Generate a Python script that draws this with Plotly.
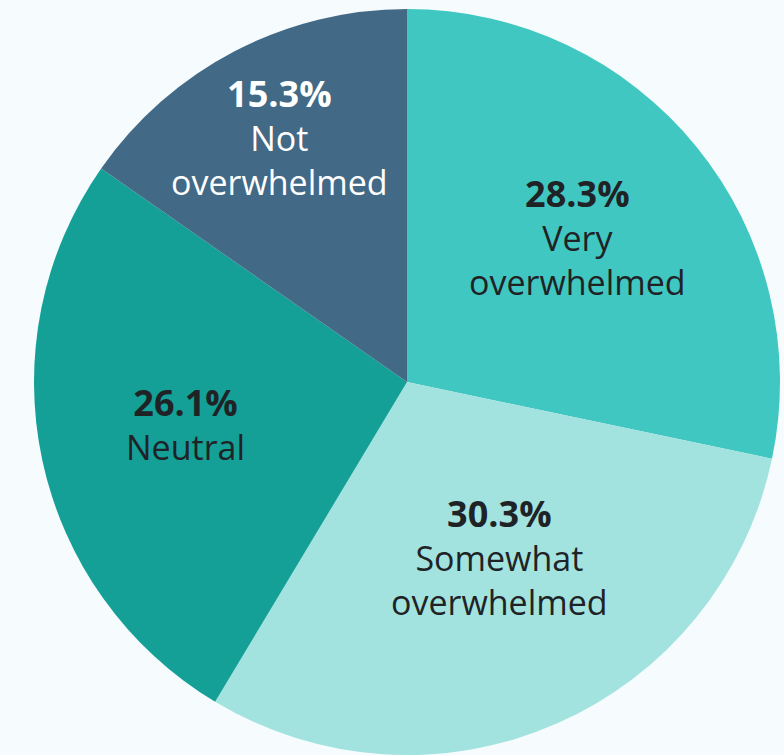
import math
import plotly.graph_objects as go

labels = ["Very<br>overwhelmed", "Somewhat<br>overwhelmed", "Neutral", "Not<br>overwhelmed"]
shares = [28.3, 30.3, 26.1, 15.3]
colors = ["#41C7C1", "#A2E3DF", "#149F97", "#426986"]
text_colors = ["#1F2326", "#1F2326", "#1F2326", "#FFFFFF"]

# label placement: fraction of the radius and a small angular nudge (degrees)
label_radius = [0.60, 0.53, 0.605, 0.74]
label_nudge = [-1.3, -4.4, 1.4, 0.0]

W, H = 784, 755
M = dict(l=33, r=3, t=9, b=0)
plot_w = W - M["l"] - M["r"]
plot_h = H - M["t"] - M["b"]
R = min(plot_w, plot_h) / 2

fig = go.Figure(
    go.Pie(
        labels=labels,
        values=shares,
        sort=False,
        direction="clockwise",
        rotation=0,
        marker=dict(colors=colors, line=dict(width=0)),
        textinfo="none",
        showlegend=False,
        hoverinfo="skip",
    )
)

total = sum(shares)
start = 0.0
annotations = []
for lab, val, col, rf, nudge in zip(labels, shares, text_colors, label_radius, label_nudge):
    mid = (start + val / 2) / total * 360 + nudge
    start += val
    ang = math.radians(mid)
    dx = rf * R * math.sin(ang)
    dy = rf * R * math.cos(ang)
    annotations.append(
        dict(
            x=0.5 + dx / plot_w,
            y=0.5 + dy / plot_h,
            xref="paper",
            yref="paper",
            xanchor="center",
            yanchor="middle",
            showarrow=False,
            text=f"<span style='font-size:36px'><b>{val:.1f}%</b></span><br>{lab}",
            font=dict(family="Open Sans", size=34, color=col),
            align="center",
        )
    )

fig.update_layout(
    width=W,
    height=H,
    margin=M,
    paper_bgcolor="#F6FBFE",
    plot_bgcolor="#F6FBFE",
    annotations=annotations,
)

fig.write_html("out.html")
